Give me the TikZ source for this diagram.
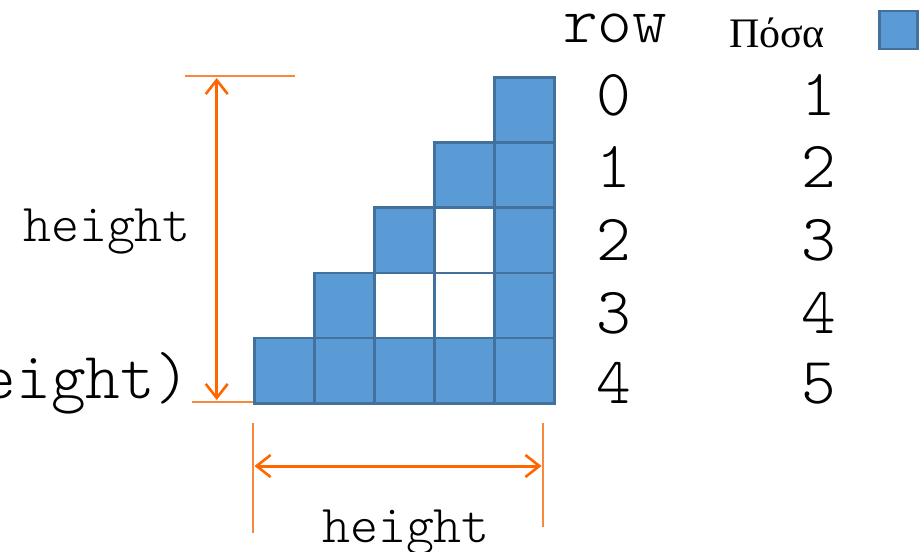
\documentclass[tikz,border=0pt]{standalone}
\usepackage{fontspec}
\newfontfamily\greekfont{Liberation Serif}
\newfontfamily\thinmono{lmmonolt10-regular.otf}
\usetikzlibrary{arrows.meta}
\definecolor{cellfill}{HTML}{5B9BD5}
\definecolor{celledge}{HTML}{41719C}
\definecolor{arrorange}{HTML}{FF6600}
\definecolor{thinorange}{HTML}{F58A3C}
\tikzset{
  cell/.style={draw=celledge, line width=2.5pt, fill=cellfill, minimum width=60pt, minimum height=65.2pt, inner sep=0pt, anchor=north west},
  emptycell/.style={cell, fill=white},
  dimarrow/.style={draw=arrorange, line width=3pt, {Straight Barb[length=14pt,width=22pt,line width=2.6pt]}-{Straight Barb[length=14pt,width=22pt,line width=2.6pt]}},
  extline/.style={draw=thinorange, line width=1.5pt},
  bigtxt/.style={font=\thinmono\fontsize{66}{66}\selectfont, inner sep=0pt, anchor=base},
  midtxt/.style={font=\thinmono\fontsize{53.3}{54}\selectfont, inner sep=0pt, anchor=base},
  smalltxt/.style={font=\greekfont\fontsize{42}{42}\selectfont, inner sep=0pt, anchor=base},
}
\begin{document}
\begin{tikzpicture}[x=1pt,y=-1pt]
\useasboundingbox (0,0) rectangle (920,551);
\clip (0,0) rectangle (920,551);
% extension lines
\coordinate (tl) at (185,76);
\coordinate (tr) at (295,76);
\coordinate (bl) at (192,402);
\coordinate (br) at (253,402);
\draw[extline] (tl) -- (tr);
\draw[extline] (bl) -- (br);
\coordinate (vl1) at (253,423);
\coordinate (vl2) at (253,533);
\coordinate (vr1) at (543,423);
\coordinate (vr2) at (543,527);
\draw[extline] (vl1) -- (vl2);
\draw[extline] (vr1) -- (vr2);
% cells
\foreach \r/\c in {0/4, 1/3, 1/4, 2/2, 2/4, 3/1, 3/4, 4/0, 4/1, 4/2, 4/3, 4/4}
  \node[cell] (cell-\r-\c) at (253+60*\c, 76+65.2*\r) {};
\foreach \r/\c in {2/3, 3/2, 3/3}
  \node[emptycell] (cell-\r-\c) at (253+60*\c, 76+65.2*\r) {};
% dimension arrows
\coordinate (va) at (216.7,78);
\coordinate (vb) at (216.7,400);
\draw[dimarrow] (va) -- (vb);
\coordinate (ha) at (254.5,466);
\coordinate (hb) at (541.5,466);
\draw[dimarrow] (ha) -- (hb);
% texts
\node[midtxt] (hleft) at (107,241) {height};
\node[midtxt] (hbottom) at (406,542) {height};
\node[bigtxt, anchor=base east] (range) at (190,398) {range(height)};
\node[bigtxt] (rowlbl) at (615,42) {row};
\node[smalltxt] (posa) at (777,48) {Πόσα};
\node[draw=celledge, line width=2.5pt, fill=cellfill, minimum width=38pt, minimum height=38pt, inner sep=0pt, anchor=north west] (legend) at (878,10) {};
\foreach \i/\b in {0/115, 1/187, 2/260, 3/333, 4/403} {
  \pgfmathtruncatemacro{\v}{\i+1}
  \node[bigtxt] (rn-\i) at (614,\b) {\i};
  \node[bigtxt] (cnt-\i) at (819,\b) {\v};
}
\end{tikzpicture}
\end{document}
